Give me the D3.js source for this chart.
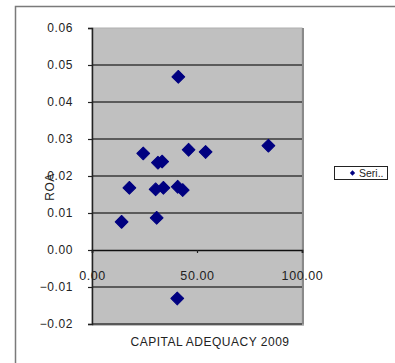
<!DOCTYPE html>
<html><head><meta charset="utf-8">
<script src="https://cdn.jsdelivr.net/npm/d3@7"></script>
<style>
html,body{margin:0;padding:0;background:#fff;}
text{font-family:"Liberation Sans",Arial,sans-serif;fill:#222;}
</style></head>
<body>
<svg id="c" width="395" height="363"></svg>
<script>
const capitalAdequacy = [41.1, 24.4, 31.4, 33.4, 46.0, 54.1, 84.0, 17.8, 30.3, 34.0, 40.8, 43.2, 14.1, 30.8, 40.6];
const roa            = [0.0468, 0.0261, 0.0236, 0.0239, 0.0271, 0.0265, 0.0282, 0.0168, 0.0164, 0.0168, 0.0171, 0.0162, 0.0076, 0.0087, -0.0131];
const yTicks = [-0.02, -0.01, 0, 0.01, 0.02, 0.03, 0.04, 0.05, 0.06];
const xTicks = [0, 50, 100];
const xTitle = "CAPITAL ADEQUACY 2009";
const yTitle = "ROA";
const seriesName = "Seri..";

const svg = d3.select("#c");
const L = 92, R = 302, T = 28, B = 324;
const x = d3.scaleLinear().domain([0, 100]).range([L, R]);
const y = d3.scaleLinear().domain([-0.02, 0.06]).range([B, T]);

// outer frame
svg.append("rect").attr("x", 15.5).attr("y", 6.5).attr("width", 400).attr("height", 400)
  .attr("fill", "none").attr("stroke", "#7a7a7a").attr("stroke-width", 1.5);

// plot area
svg.append("rect").attr("x", L).attr("y", T).attr("width", R - L).attr("height", B - T)
  .attr("fill", "#c0c0c0").attr("stroke", "#b0b0b0").attr("stroke-width", 1);
svg.append("line").attr("x1", R + 1).attr("x2", R + 1).attr("y1", T).attr("y2", B + 1)
  .attr("stroke", "#8a8a8a").attr("stroke-width", 2);
svg.append("line").attr("x1", L).attr("x2", R + 2).attr("y1", B + 1).attr("y2", B + 1)
  .attr("stroke", "#a8a8a8").attr("stroke-width", 1.5);

// gridlines
svg.append("g").selectAll("line").data(yTicks.filter(d => d !== 0 && d !== 0.06)).join("line")
  .attr("x1", L).attr("x2", R).attr("y1", d => y(d)).attr("y2", d => y(d))
  .attr("stroke", "#3a3a3a").attr("stroke-width", 1.6);

// y axis
const ya = svg.append("g").attr("transform", `translate(${L},0)`)
  .call(d3.axisLeft(y).tickValues(yTicks).tickFormat(d3.format(".2f")).tickSize(4).tickPadding(15));
ya.select(".domain").attr("stroke", "#222").attr("stroke-width", 1.5);
ya.selectAll(".tick line").attr("stroke", "#222").attr("stroke-width", 1.2);
ya.selectAll("text").attr("font-size", 12).attr("letter-spacing", 0.6).attr("fill", "#222")
  .attr("font-family", '"Liberation Sans",Arial,sans-serif');

// x axis at y=0
const xa = svg.append("g").attr("transform", `translate(0,${y(0)})`)
  .call(d3.axisBottom(x).tickValues(xTicks).tickFormat(d3.format(".2f")).tickSize(3).tickPadding(18));
xa.select(".domain").attr("stroke", "#111").attr("stroke-width", 1.6);
xa.selectAll(".tick line").attr("stroke", "#222").attr("stroke-width", 1.2);
xa.selectAll("text").attr("font-size", 12.5).attr("letter-spacing", 0.6).attr("fill", "#222")
  .attr("font-family", '"Liberation Sans",Arial,sans-serif');

// points
const sym = d3.symbol().type(d3.symbolSquare).size(82);
svg.append("g").selectAll("path").data(capitalAdequacy.map((v, i) => [v, roa[i]])).join("path")
  .attr("d", sym)
  .attr("transform", d => `translate(${x(d[0])},${y(d[1])}) rotate(45)`)
  .attr("fill", "#000080").attr("stroke", "#000080").attr("stroke-width", 1).attr("stroke-linejoin", "round");

// titles
svg.append("text").attr("x", 210).attr("y", 346).attr("text-anchor", "middle")
  .attr("font-size", 12).attr("letter-spacing", 0.5).text(xTitle);
svg.append("text").attr("transform", "translate(54,187) rotate(-90)").attr("text-anchor", "middle")
  .attr("font-size", 12).attr("letter-spacing", 0.5).text(yTitle);

// legend
const lg = svg.append("g");
lg.append("rect").attr("x", 334.5).attr("y", 166.5).attr("width", 53).attr("height", 13)
  .attr("fill", "#fff").attr("stroke", "#222").attr("stroke-width", 1);
lg.append("path").attr("d", d3.symbol().type(d3.symbolSquare).size(14))
  .attr("transform", "translate(352.5,173) rotate(45)").attr("fill", "#000080");
lg.append("text").attr("x", 359).attr("y", 177).attr("font-size", 10.5).text(seriesName);
</script>
</body></html>
